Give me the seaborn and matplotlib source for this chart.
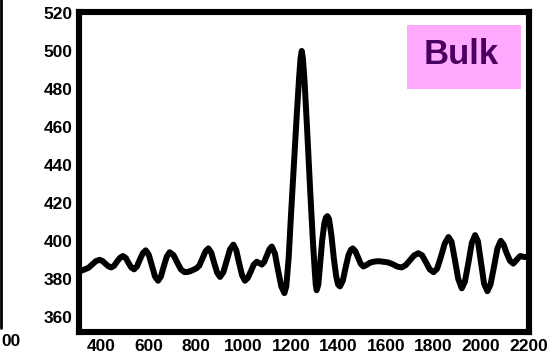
import matplotlib
matplotlib.use("Agg")
import matplotlib.pyplot as plt
from matplotlib.lines import Line2D
from matplotlib.patches import Rectangle
from matplotlib.ticker import MultipleLocator
import seaborn as sns
import pandas as pd

# Signal trace: position vs. response
position = [305, 318, 331, 347, 362, 378, 394, 406, 418, 431, 443, 455, 467, 480,
            492, 504, 515, 527, 539, 551, 563, 576, 588, 601, 614, 627, 640, 652,
            664, 677, 689, 705, 720, 736, 752, 764, 775, 788, 801, 814, 827, 840,
            852, 864, 876, 889, 901, 915, 929, 943, 957, 969, 981, 994, 1006, 1018,
            1031, 1043, 1056, 1066, 1077, 1087, 1098, 1109, 1119, 1132, 1145, 1159,
            1172, 1180, 1190, 1200, 1212, 1224, 1234, 1240, 1245, 1250, 1257, 1268,
            1280, 1292, 1300, 1304, 1308, 1315, 1322, 1331, 1340, 1347, 1353, 1360,
            1370, 1380, 1390, 1398, 1406, 1418, 1430, 1442, 1452, 1460, 1471, 1483,
            1494, 1505, 1520, 1533, 1547, 1568, 1589, 1610, 1630, 1648, 1666, 1683,
            1700, 1718, 1736, 1752, 1768, 1784, 1800, 1815, 1831, 1847, 1863, 1876,
            1890, 1904, 1919, 1932, 1947, 1961, 1975, 1987, 2000, 2013, 2027, 2040,
            2055, 2069, 2083, 2095, 2108, 2122, 2136, 2150, 2165, 2182, 2200]
response = [384, 384.3, 385, 385.8, 387.5, 389.3, 390, 389.4, 388, 386.6, 386, 386.9,
            389, 391.1, 392, 391, 388.5, 386, 385, 386.5, 390, 393.5, 395, 392.7,
            387, 381.3, 379, 381.2, 386.5, 391.8, 394, 392.5, 388.8, 385, 383.5,
            383.6, 384, 384.7, 385.5, 387, 390.7, 394.5, 396, 393.8, 388.5, 383.2,
            381, 383.5, 389.5, 395.5, 398, 395.2, 388.5, 381.8, 379, 380.5, 384,
            387.5, 389, 388.3, 387.5, 388.9, 392.2, 395.6, 397, 393.4, 384.7, 376,
            372.5, 376, 391, 414, 440, 466, 486, 496, 500, 496, 484, 458,
            428, 400, 384, 377, 374, 377, 387, 400, 409, 412.3, 413, 411.5,
            403, 391, 381.5, 377, 376, 379, 386, 392.5, 395.3, 396, 394.5, 391,
            387.8, 386.5, 387.5, 388.5, 389, 389.3, 389, 388.6, 387.6, 386.4, 386, 387.2,
            389.7, 392.3, 393.5, 392.4, 388.8, 385, 383.5, 385.3, 391.5, 398.5, 402, 399.5,
            390, 380, 375, 378.5, 388.5, 398.8, 403, 399.8, 388.5, 377.4, 373.5, 377,
            386.5, 396, 400, 398, 393.5, 389.5, 388, 390, 392, 391.5, 391.5]

x_ticks = [400, 600, 800, 1000, 1200, 1400, 1600, 1800, 2000, 2200]
y_ticks = [360, 380, 400, 420, 440, 460, 480, 500, 520]
panel_label = "Bulk"

df = pd.DataFrame({"position": position, "response": response})

sns.set_theme(style="white")
plt.rcParams["font.family"] = ["Liberation Sans", "DejaVu Sans"]
plt.rcParams["font.weight"] = "bold"

W, H = 553, 356
fig = plt.figure(figsize=(W / 100, H / 100), dpi=100)
fig.patch.set_facecolor("white")
ax = fig.add_axes([78.5 / W, 1 - 332 / H, (528.5 - 78.5) / W, (332 - 12) / H])
ax.set_facecolor("white")

sns.lineplot(data=df, x="position", y="response", ax=ax, color="black",
             linewidth=4.3, solid_joinstyle="round", solid_capstyle="round",
             sort=False, clip_on=True)

ax.set_xlim(305, 2200)
ax.set_ylim(352, 520.5)
ax.set_xticks(x_ticks)
ax.set_yticks(y_ticks)
ax.xaxis.set_minor_locator(MultipleLocator(50))
ax.yaxis.set_minor_locator(MultipleLocator(5))
ax.set_xlabel("")
ax.set_ylabel("")

for s in ax.spines.values():
    s.set_visible(True)
    s.set_color("black")
    s.set_linewidth(4.4)

ax.tick_params(axis="y", which="major", direction="in", length=9.5, width=1.5,
               color="black", pad=4.5, labelsize=12.5, labelcolor="black")
ax.tick_params(axis="y", which="minor", direction="in", length=4.5, width=1.5,
               color="black")
ax.tick_params(axis="x", which="major", direction="in", length=5, width=1.5,
               color="black", pad=5, labelsize=12.5, labelcolor="black")
ax.tick_params(axis="x", which="minor", direction="in", length=4.5, width=1.5,
               color="black")
for lab in ax.get_xticklabels() + ax.get_yticklabels():
    lab.set_fontweight("bold")

# Panel tag box
fig.patches.append(Rectangle((407 / W, 1 - 89 / H), 114 / W, 64 / H,
                             transform=fig.transFigure, facecolor="#ffaaff",
                             edgecolor="none", zorder=5))
fig.text(461 / W, 1 - 55 / H, panel_label, ha="center", va="center",
         fontsize=25, fontweight="bold", color="#4a0060", zorder=6)

# Edge of the neighbouring panel and the tail of its last tick label
fig.lines.append(Line2D([1.2 / W, 1.2 / W], [1.0, 1 - 328 / H],
                        transform=fig.transFigure, color="black", linewidth=2))
fig.text(21 / W, 1 - 342 / H, "00", ha="right", va="center",
         fontsize=12.5, fontweight="bold", color="black")

fig.savefig("out.png", dpi=100, facecolor="white")
